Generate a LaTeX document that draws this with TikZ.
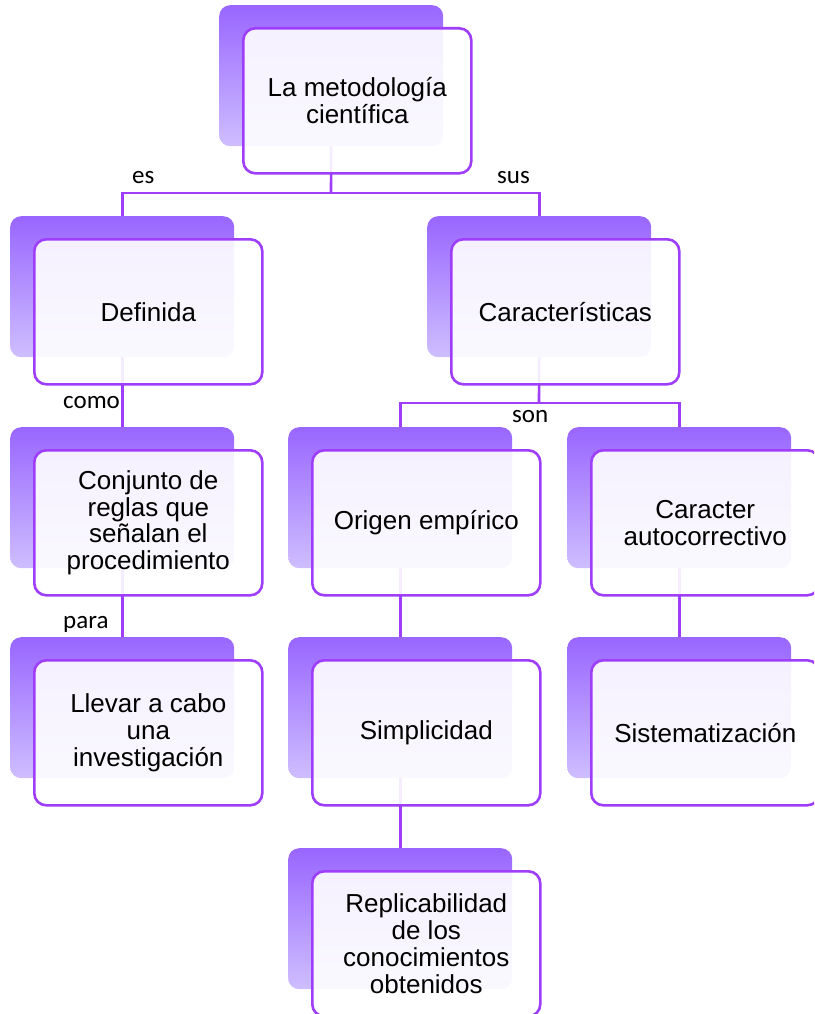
\documentclass[tikz,border=0pt]{standalone}
\usepackage{fontspec}
\setmainfont{Liberation Sans}
\newfontfamily\labfont{Carlito}
\pgfdeclarelayer{background}
\pgfsetlayers{background,main}
\definecolor{pbord}{RGB}{158,62,250}
\definecolor{ptop}{RGB}{153,102,255}
\definecolor{pbot}{RGB}{206,190,255}
\tikzset{
  backbox/.style={anchor=north west, minimum width=224pt, minimum height=141pt, inner sep=0pt,
    rounded corners=11pt, top color=ptop, bottom color=pbot, draw=none},
  frontbox/.style={anchor=north west, minimum width=228pt, minimum height=145pt, inner sep=0pt,
    rounded corners=12pt, draw=pbord, line width=2.6pt, fill=white, fill opacity=0.9, text opacity=1,
    align=center, font=\fontsize{26}{26.8}\selectfont},
  conn/.style={draw=pbord, line width=2.6pt},
  lab/.style={font=\labfont\fontsize{25}{28}\selectfont, inner sep=0pt}
}
\begin{document}
\begin{tikzpicture}[x=1pt,y=-1pt]
\useasboundingbox (0,0) rectangle (814,1014);
\clip (0,0) rectangle (814,1014);
% back boxes
\node[backbox] (bTop) at (219,5) {};
\node[backbox] (bDef) at (10,216) {};
\node[backbox] (bCar) at (427,216) {};
\node[backbox] (bCon) at (10,427) {};
\node[backbox] (bOri) at (288,427) {};
\node[backbox] (bAut) at (567,427) {};
\node[backbox] (bLle) at (10,637) {};
\node[backbox] (bSim) at (288,637) {};
\node[backbox] (bSis) at (567,637) {};
\node[backbox] (bRep) at (288,848) {};
% front boxes
\node[frontbox] (fTop) at (242,27) {La metodología\\científica};
\node[frontbox] (fDef) at (33,238) {Definida};
\node[frontbox] (fCar) at (450,238) {Características};
\node[frontbox] (fCon) at (33,449) {Conjunto de\\reglas que\\señalan el\\procedimiento};
\node[frontbox] (fOri) at (311,449) {Origen empírico};
\node[frontbox] (fAut) at (590,449) {Caracter\\autocorrectivo};
\node[frontbox] (fLle) at (33,659) {Llevar a cabo\\una\\investigación};
\node[frontbox] (fSim) at (311,659) {Simplicidad};
\node[frontbox] (fSis) at (590,659) {Sistematización};
\node[frontbox] (fRep) at (311,870) {Replicabilidad\\de los\\conocimientos\\obtenidos};
% connectors
\coordinate (j1) at (331,193);
\coordinate (j2) at (539,403);
\begin{pgfonlayer}{background}
\draw[conn] (bTop.south) -- (j1);
\draw[conn] (bDef.north) |- (j1) -| (bCar.north);
\draw[conn] (bDef.south) -- (bCon.north);
\draw[conn] (bCon.south) -- (bLle.north);
\draw[conn] (bCar.south) -- (j2);
\draw[conn] (bOri.north) |- (j2) -| (bAut.north);
\draw[conn] (bOri.south) -- (bSim.north);
\draw[conn] (bSim.south) -- (bRep.north);
\draw[conn] (bAut.south) -- (bSis.north);
\end{pgfonlayer}
% labels
\node[lab, anchor=base west] (les) at (132,183) {es};
\node[lab, anchor=base west] (lsus) at (497,183) {sus};
\node[lab, anchor=base west] (lcomo) at (63,408) {como};
\node[lab, anchor=base west] (lpara) at (63,628) {para};
\node[lab, anchor=base west] (lson) at (512,422) {son};
\end{tikzpicture}
\end{document}
